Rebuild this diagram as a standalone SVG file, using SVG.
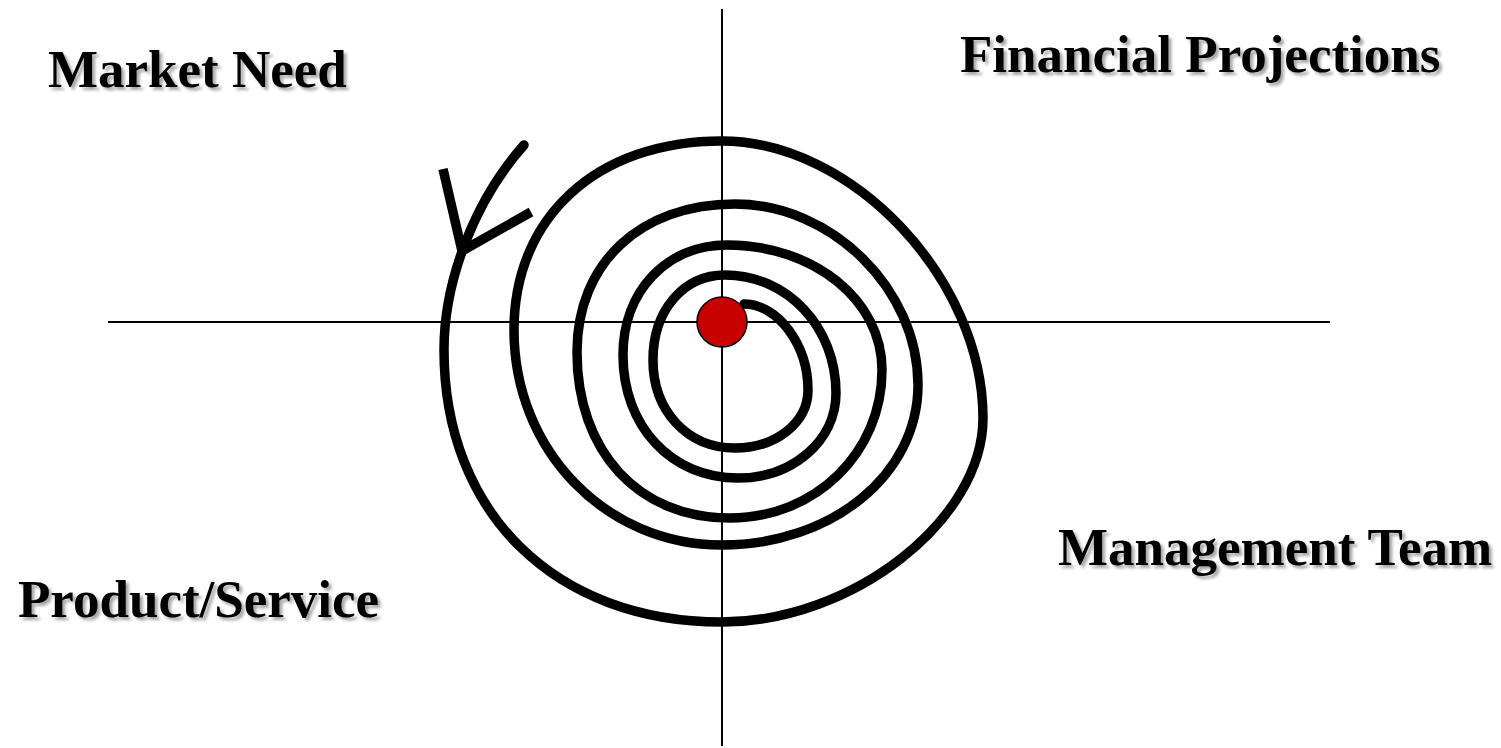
<svg xmlns="http://www.w3.org/2000/svg" width="1501" height="748" viewBox="0 0 1501 748">
  <style>
    .axis { stroke: #000; stroke-width: 2; fill: none; }
    .spiral { stroke: #000; stroke-width: 9.5; fill: none; stroke-linecap: round; stroke-linejoin: round; }
    .arrow { stroke: #000; stroke-width: 9.5; fill: none; stroke-linecap: butt; stroke-linejoin: miter; }
    .label { font-family: "Liberation Serif", "Times New Roman", serif; font-weight: bold; font-size: 53px; fill: #000; }
  </style>
  <defs>
    <filter id="shadow" x="-5%" y="-20%" width="110%" height="150%">
      <feDropShadow dx="3" dy="3" stdDeviation="1.5" flood-color="#000" flood-opacity="0.35"/>
    </filter>
  </defs>
  <rect width="1501" height="748" fill="#fff"/>
  <g id="axes">
    <line class="axis" x1="108" y1="322" x2="1330" y2="322"/>
    <line class="axis" x1="722" y1="9" x2="722" y2="746"/>
  </g>
  <g id="connectors">
    <path id="spiral" class="spiral" d="M744,304 C778,304 808,345 808,390 C808,422.5 775.9,448 735,448 C687.4,448 653,411 653,360 C653,310.7 683.2,275 725,275 C787.2,275 836,326.9 836,393 C836,440.6 792.9,478 738,478 C671.3,478 623,426.3 623,355 C623,291.2 666.7,245 727,245 C813.8,245 882,300 882,370 C882,452.9 815.1,518 730,518 C638.2,518 577,451.6 577,352 C577,263.2 640.2,204 735,204 C832,204 918,289.1 918,385 C918,474.6 831.8,545 722,545 C605.5,545 514,450.4 514,330 C514,216.6 597.2,141 722,141 C852.5,141 983,279.5 983,418 C983,520 852.5,622 722,622 C555.2,622 444,513.2 444,350 C444,280 475,200 524,145"/>
    <polyline id="arrowhead" class="arrow" points="443,169 462,251 531,212"/>
  </g>
  <g id="center">
    <circle cx="722" cy="322" r="25" fill="#C80000" stroke="#000" stroke-width="1.5"/>
  </g>
  <g id="market-need" filter="url(#shadow)">
    <text class="label" x="48" y="87">Market Need</text>
  </g>
  <g id="financial-projections" filter="url(#shadow)">
    <text class="label" x="960" y="72">Financial Projections</text>
  </g>
  <g id="management-team" filter="url(#shadow)">
    <text class="label" x="1058" y="565">Management Team</text>
  </g>
  <g id="product-service" filter="url(#shadow)">
    <text class="label" x="18" y="617">Product/Service</text>
  </g>
</svg>
